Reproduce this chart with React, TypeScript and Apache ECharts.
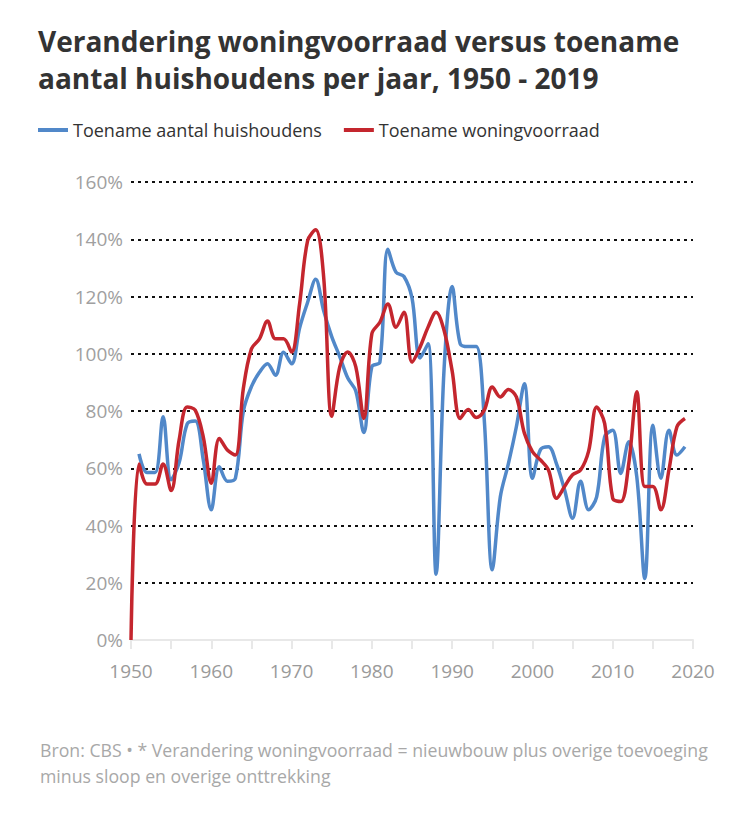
import React, { useEffect, useRef } from "react";
import * as echarts from "echarts";

const years: number[] = [];
for (let y = 1950; y <= 2019; y++) years.push(y);

const huishoudens: (number | null)[] = [
  null, 65, 58.5, 58.5, 78, 56, 62, 75.5, 76.5, 63,
  45.5, 60.5, 55.5, 56.5, 80, 88.5, 93.5, 96.5, 92.5, 100.5,
  96.5, 109, 118, 126, 115, 106, 99, 91.5, 87, 72.5,
  95.5, 97, 136.5, 128.5, 127, 119.5, 98.5, 103.5, 23, 95,
  123.5, 103.5, 102.5, 102.5, 77, 24.5, 50, 61.5, 74.5, 89.5,
  56.5, 66.5, 67.5, 61.5, 52.5, 42.5, 55.5, 45.5, 50, 71,
  73.3, 58.2, 69.3, 57, 21.5, 75, 56.5, 73.3, 64.6, 67.5,
];

const woningvoorraad: number[] = [
  0, 61.5, 54.5, 54.5, 61.5, 52.2, 70, 81.4, 80.3, 71,
  54.8, 70.4, 66.4, 64.6, 88, 101.7, 105.2, 111.4, 105.2, 105.2,
  100.6, 117.5, 139.5, 143.3, 126.7, 78.2, 95.4, 100.6, 95.4, 77.4,
  107, 111, 117.4, 109.3, 114.5, 97.1, 102.3, 109.3, 114.5, 108.1,
  94, 77.4, 80.5, 77.7, 80.3, 88.4, 84.9, 87.5, 84.9, 72.2,
  65.8, 62.9, 59.4, 49.5, 53.6, 57.7, 59.4, 66, 81.4, 75.6,
  49.5, 48.4, 61.7, 86.7, 53.6, 53.6, 45.5, 59.4, 74.5, 77.4,
];

const seriesNames = ["Toename aantal huishoudens", "Toename woningvoorraad"];
const titleText = "Verandering woningvoorraad versus toename\naantal huishoudens per jaar, 1950 - 2019";
const footnoteLines = [
  "Bron: CBS • * Verandering woningvoorraad = nieuwbouw plus overige toevoeging",
  "minus sloop en overige onttrekking",
];

const FONT = "'Open Sans', 'Noto Sans', sans-serif";

export default function App() {
  const ref = useRef<HTMLDivElement>(null);
  useEffect(() => {
    document.body.style.margin = "0";
    const chart = echarts.init(ref.current!, null, { renderer: "svg" });
    chart.setOption({
      animation: false,
      backgroundColor: "#ffffff",
      textStyle: { fontFamily: FONT },
      title: {
        text: titleText,
        left: 33,
        top: 18,
        textStyle: {
          fontFamily: FONT,
          fontSize: 28,
          fontWeight: "bold",
          color: "#333333",
          lineHeight: 36.6,
        },
      },
      legend: {
        left: 33,
        top: 116,
        icon: "rect",
        itemWidth: 30,
        itemHeight: 4,
        itemGap: 22,
        textStyle: { fontFamily: FONT, fontSize: 18, color: "#333333" },
        data: seriesNames,
      },
      grid: { left: 131, right: 57, top: 182, bottom: 181 },
      xAxis: {
        type: "value",
        min: 1950,
        max: 2020,
        interval: 5,
        axisLine: { show: true, lineStyle: { color: "#e8e8e8", width: 2 } },
        axisTick: { show: true, length: 9, lineStyle: { color: "#e8e8e8", width: 2 } },
        splitLine: { show: false },
        axisLabel: {
          fontFamily: FONT,
          fontSize: 19,
          color: "#9a9a9a",
          margin: 21,
          formatter: (v: number) => (v % 10 === 0 ? String(v) : ""),
        },
      },
      yAxis: {
        type: "value",
        min: 0,
        max: 160,
        interval: 20,
        axisLine: { show: false },
        axisTick: { show: false },
        axisLabel: {
          fontFamily: FONT,
          fontSize: 19,
          color: "#a0a0a0",
          margin: 8,
          formatter: (v: number) => v + "%",
        },
        splitLine: {
          show: true,
          showMinLine: false,
          lineStyle: { color: "#111111", type: [3, 4], width: 2 },
        },
      },
      series: [
        {
          name: seriesNames[0],
          type: "line",
          data: years.map((y, i) => [y, huishoudens[i]]),
          smooth: 0.35,
          showSymbol: false,
          lineStyle: { color: "#5188c9", width: 3.5 },
          itemStyle: { color: "#5188c9" },
          z: 2,
        },
        {
          name: seriesNames[1],
          type: "line",
          data: years.map((y, i) => [y, woningvoorraad[i]]),
          smooth: 0.35,
          showSymbol: false,
          lineStyle: { color: "#c4262e", width: 3.5 },
          itemStyle: { color: "#c4262e" },
          z: 3,
        },
      ],
      graphic: footnoteLines.map((t, i) => ({
        type: "text",
        left: 40,
        top: 741 + i * 25.7,
        style: { text: t, fontFamily: FONT, fontSize: 17.7, fill: "#a8a8a8" },
      })),
    });
    return () => chart.dispose();
  }, []);
  return <div ref={ref} style={{ width: 750, height: 821 }} />;
}
